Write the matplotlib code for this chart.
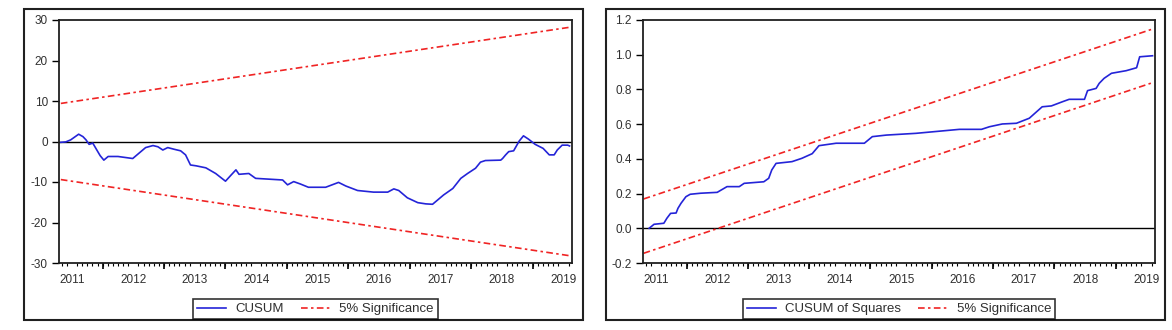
"""
CUSUM and CUSUM of Squares stability tests, 2011-2019.
"""
import numpy as np
import matplotlib; matplotlib.use('Agg')
import matplotlib.pyplot as plt
from matplotlib.patches import Rectangle

plt.rcParams['font.family'] = ['Liberation Sans', 'DejaVu Sans']

# CUSUM (left panel): fractional year, value
cusum_t = [2010.82, 2010.90, 2010.98, 2011.11, 2011.18, 2011.23, 2011.28, 2011.34,
           2011.39, 2011.46, 2011.52, 2011.59, 2011.75, 2011.99, 2012.20, 2012.32,
           2012.40, 2012.48, 2012.56, 2012.66, 2012.77, 2012.85, 2012.93, 2013.02,
           2013.18, 2013.34, 2013.50, 2013.59, 2013.67, 2013.72, 2013.88, 2013.99,
           2014.43, 2014.51, 2014.61, 2014.72, 2014.85, 2015.13, 2015.34, 2015.46,
           2015.65, 2015.91, 2016.14, 2016.24, 2016.32, 2016.46, 2016.63, 2016.76,
           2016.87, 2017.05, 2017.20, 2017.33, 2017.44, 2017.57, 2017.65, 2017.73,
           2017.98, 2018.01, 2018.06, 2018.11, 2018.19, 2018.22, 2018.28, 2018.35,
           2018.43, 2018.54, 2018.67, 2018.77, 2018.85, 2018.90, 2018.98, 2019.07,
           2019.10]
cusum_v = [-0.2, -0.1, 0.4, 1.8, 1.2, 0.4, -0.7, -0.4,
           -1.7, -3.5, -4.6, -3.7, -3.7, -4.2, -1.5, -1.0,
           -1.3, -2.1, -1.5, -1.9, -2.3, -3.3, -5.8, -6.0,
           -6.5, -7.9, -9.8, -8.3, -7.0, -8.1, -7.9, -9.1,
           -9.5, -10.7, -9.9, -10.5, -11.3, -11.3, -10.1, -11.0,
           -12.1, -12.5, -12.5, -11.7, -12.1, -13.9, -15.1, -15.4,
           -15.5, -13.2, -11.6, -9.1, -7.9, -6.6, -5.1, -4.7,
           -4.6, -4.2, -3.3, -2.5, -2.3, -1.5, 0.1, 1.4,
           0.6, -0.7, -1.7, -3.3, -3.3, -2.1, -0.9, -0.9,
           -1.1]
cusum_band_t = [2010.82, 2019.10]
cusum_upper = [9.4, 28.2]
cusum_lower = [-9.4, -28.2]

# CUSUM of squares (right panel)
cusq_t = [2010.89, 2010.97, 2011.13, 2011.18, 2011.24, 2011.33, 2011.36, 2011.41,
          2011.49, 2011.56, 2011.73, 2012.00, 2012.16, 2012.36, 2012.44, 2012.76,
          2012.84, 2012.89, 2012.96, 2013.22, 2013.38, 2013.55, 2013.66, 2013.94,
          2014.40, 2014.53, 2014.76, 2015.24, 2015.95, 2016.31, 2016.44, 2016.65,
          2016.88, 2017.09, 2017.30, 2017.45, 2017.63, 2017.74, 2017.99, 2018.04,
          2018.18, 2018.23, 2018.31, 2018.43, 2018.67, 2018.84, 2018.89, 2019.10]
cusq_v = [0.0, 0.023, 0.029, 0.058, 0.086, 0.088, 0.115, 0.144,
          0.182, 0.196, 0.202, 0.207, 0.240, 0.240, 0.259, 0.268,
          0.288, 0.336, 0.374, 0.384, 0.403, 0.430, 0.476, 0.490,
          0.490, 0.528, 0.537, 0.547, 0.570, 0.570, 0.585, 0.601,
          0.605, 0.634, 0.700, 0.705, 0.729, 0.743, 0.743, 0.793,
          0.806, 0.835, 0.864, 0.893, 0.908, 0.925, 0.988, 0.994]
cusq_band_t = [2010.80, 2019.10]
cusq_upper = [0.169, 1.148]
cusq_lower = [-0.144, 0.839]

years = list(range(2011, 2020))
BLUE = '#2424d8'
RED = '#f02424'
TXT = '#303030'
SIG_DASH = (0, (4, 2, 1.5, 2))


def style_axis(ax, yticks, ylim, yfmt):
    ax.set_xlim(2010.79, 2019.14)
    ax.set_ylim(*ylim)
    ax.axhline(0, color='black', lw=1.0, zorder=1)
    ax.set_yticks(yticks)
    ax.set_yticklabels([yfmt.format(v) for v in yticks])
    ax.tick_params(axis='y', direction='out', length=5, width=1, pad=3,
                   labelsize=8.5, labelcolor=TXT)
    # year labels, no tick mark
    ax.set_xticks(years)
    ax.set_xticklabels([str(y) for y in years])
    ax.tick_params(axis='x', which='major', length=0, pad=8,
                   labelsize=8.5, labelcolor=TXT)
    # monthly minor ticks
    months = np.arange(2010 + 10 / 12, 2019.14, 1 / 12)
    ax.set_xticks(months, minor=True)
    ax.tick_params(axis='x', which='minor', direction='out', length=2, width=0.8)
    # mid-year longer ticks
    sec = ax.secondary_xaxis('bottom')
    sec.set_xticks([y + 0.5 for y in range(2011, 2019)])
    sec.set_xticklabels([])
    sec.tick_params(direction='out', length=4.5, width=1.2)
    sec.spines['bottom'].set_visible(False)
    for s in ax.spines.values():
        s.set_linewidth(1.3)
        s.set_color('#202020')


fig = plt.figure(figsize=(11.72, 3.3), dpi=100)
ax1 = fig.add_axes([59 / 1172, 1 - 263 / 330, 513 / 1172, 243 / 330])
ax2 = fig.add_axes([643 / 1172, 1 - 263 / 330, 512 / 1172, 243 / 330])

ax1.plot(cusum_t, cusum_v, color=BLUE, lw=1.2, label='CUSUM', zorder=3)
ax1.plot(cusum_band_t, cusum_upper, color=RED, lw=1.2, ls=SIG_DASH,
         label='5% Significance', zorder=2)
ax1.plot(cusum_band_t, cusum_lower, color=RED, lw=1.2, ls=SIG_DASH, zorder=2)
style_axis(ax1, [-30, -20, -10, 0, 10, 20, 30], (-30, 30), '{:d}')

ax2.plot(cusq_t, cusq_v, color=BLUE, lw=1.2, label='CUSUM of Squares', zorder=3)
ax2.plot(cusq_band_t, cusq_upper, color=RED, lw=1.2, ls=SIG_DASH,
         label='5% Significance', zorder=2)
ax2.plot(cusq_band_t, cusq_lower, color=RED, lw=1.2, ls=SIG_DASH, zorder=2)
style_axis(ax2, [-0.2, 0.0, 0.2, 0.4, 0.6, 0.8, 1.0, 1.2], (-0.2, 1.2), '{:.1f}')

for ax, cx in ((ax1, (188 + 443) / 2), (ax2, (735 + 1063) / 2)):
    h, l = ax.get_legend_handles_labels()
    leg = fig.legend(h, l, loc='center', bbox_to_anchor=(cx / 1172, 1 - 309 / 330),
                     ncol=2, fontsize=9.5, frameon=True, fancybox=False,
                     handlelength=2.2, handletextpad=0.7, columnspacing=1.3,
                     borderpad=0.3, borderaxespad=0, labelcolor=TXT)
    leg.get_frame().set_edgecolor('black')
    leg.get_frame().set_linewidth(1.2)

# outer panel frames
for x0, x1 in ((24, 583), (606, 1165)):
    fig.add_artist(Rectangle((x0 / 1172, 1 - 320 / 330), (x1 - x0) / 1172, 311 / 330,
                             transform=fig.transFigure, fill=False,
                             edgecolor='#202020', lw=1.5))

fig.savefig('out.png', dpi=100)
